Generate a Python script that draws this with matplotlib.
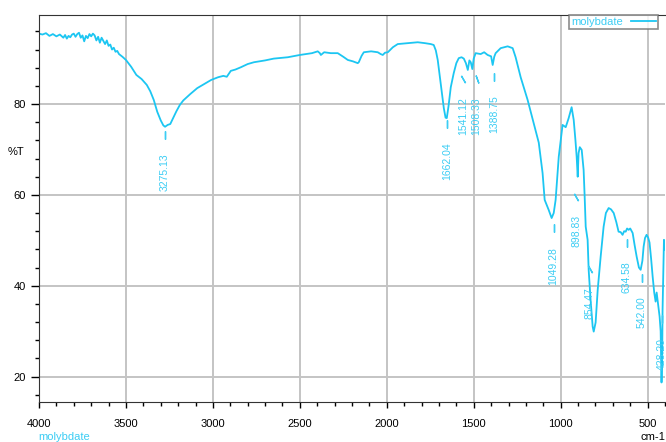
import numpy as np
import matplotlib.pyplot as plt
from matplotlib.ticker import MultipleLocator

plt.rcParams['font.family'] = ['Liberation Sans', 'DejaVu Sans']

# spectrum (wavenumber cm-1, %T)
wn = [4000, 3980, 3960, 3940, 3920, 3900, 3880, 3860, 3850, 3840, 3830, 3820,
      3810, 3800, 3790, 3780, 3770, 3760, 3750, 3740, 3730, 3720, 3710, 3700,
      3690, 3680, 3670, 3660, 3650, 3640, 3630, 3620, 3610, 3600, 3590, 3580,
      3570, 3560, 3550, 3540, 3520, 3500, 3470, 3440, 3410, 3380, 3360, 3340,
      3320, 3300, 3285, 3275, 3260, 3245, 3230, 3210, 3190, 3170, 3130, 3090,
      3050, 3010, 2970, 2940, 2920, 2897, 2870, 2839, 2800, 2764, 2700, 2650,
      2569, 2500, 2430, 2397, 2385, 2379, 2360, 2322, 2282, 2250, 2224, 2195,
      2167, 2161, 2145, 2132, 2090, 2052, 2035, 2023, 2010, 1994, 1965, 1937,
      1880, 1822, 1780, 1747, 1730, 1718, 1707, 1690, 1672, 1662, 1655, 1645,
      1632, 1615, 1600, 1586, 1570, 1557, 1545, 1534, 1525, 1517, 1508, 1500,
      1489, 1460, 1440, 1420, 1400, 1391, 1382, 1374, 1345, 1305, 1276, 1259,
      1230, 1190, 1155, 1126, 1104, 1092, 1069, 1052, 1040, 1029, 1011, 989,
      971, 954, 937, 925, 915, 908, 902, 897, 890, 879, 868, 862,
      856, 845, 839, 828, 816, 810, 799, 787, 770, 753, 740, 724,
      710, 695, 680, 667, 655, 644, 635, 626, 618, 609, 600, 586,
      575, 563, 550, 540, 530, 523, 515, 506, 497, 489, 480, 471,
      462, 454, 448, 443, 437, 431, 425, 420, 416, 414, 410, 406, 402]
trans = [95.5, 95.3, 95.6, 95.0, 95.4, 94.9, 95.3, 94.6, 95.2, 94.4, 95.0, 94.7,
         95.3, 95.5, 94.8, 95.4, 95.7, 94.6, 95.1, 93.8, 95.0, 94.5, 95.4, 94.9,
         95.5, 95.1, 94.0, 94.8, 93.5, 94.6, 93.9, 93.2, 94.0, 92.8, 93.1, 92.0,
         92.4, 91.5, 91.7, 91.0, 90.4, 89.7, 88.2, 86.4, 85.5, 84.2, 82.8, 80.9,
         78.3, 76.4, 75.3, 75.0, 75.4, 75.6, 76.8, 78.4, 79.8, 80.8, 82.2, 83.5,
         84.4, 85.3, 85.9, 86.2, 86.0, 87.3, 87.6, 88.1, 88.8, 89.2, 89.6, 90.0,
         90.3, 90.8, 91.2, 91.6, 91.2, 90.8, 91.4, 91.2, 91.2, 90.4, 89.7, 89.4,
         89.0, 89.2, 90.6, 91.4, 91.6, 91.4, 91.0, 90.8, 91.3, 91.4, 92.5, 93.2,
         93.4, 93.6, 93.4, 93.2, 93.0, 91.8, 89.7, 84.6, 79.1, 77.0, 76.9, 79.5,
         83.7, 86.8, 89.0, 90.1, 90.3, 90.0, 89.0, 87.5, 89.6, 89.2, 87.7, 90.0,
         91.2, 91.0, 91.4, 90.8, 90.5, 88.6, 90.4, 91.2, 92.3, 92.7, 92.3, 90.3,
         85.9, 80.9, 75.8, 71.5, 64.8, 58.9, 56.7, 54.9, 56.0, 58.9, 68.4, 75.4,
         74.9, 76.9, 79.3, 76.5, 72.0, 68.4, 64.0, 69.2, 70.5, 69.9, 65.5, 59.6,
         53.0, 50.1, 43.5, 36.9, 31.0, 29.9, 31.9, 39.1, 46.4, 53.0, 56.0, 57.1,
         56.8, 56.0, 54.0, 51.9, 51.8, 51.2, 52.0, 51.9, 52.6, 52.3, 52.6, 51.6,
         49.0, 46.4, 44.0, 43.5, 45.5, 48.6, 50.5, 51.2, 50.6, 49.5, 46.0, 42.0,
         38.5, 36.5, 38.5, 36.9, 35.0, 33.2, 30.0, 18.7, 25.0, 34.7, 42.0, 50.1, 48.0]

peak_text = ['3275.13', '1662.04', '1541.12', '1508.33', '1388.75', '1049.28',
             '898.83', '854.47', '634.58', '542.00', '428.20']

# label placement (x in cm-1, top of text in %T), and marker angle
label_x = [3275, 1651, 1559, 1484, 1381, 1041, 911, 834, 621, 534, 419]
label_top = [69.2, 71.6, 81.5, 81.5, 82.0, 48.6, 55.6, 39.6, 45.3, 37.6, 28.6]
mark_angle = [0, 0, 30, 20, 0, 0, 30, 30, 0, 0, 0]

line_c = '#1cc6f2'
text_c = '#3ccdf4'

fig = plt.figure(figsize=(6.66, 4.42), dpi=100)
ax = fig.add_axes([39 / 666, 1 - 402 / 442, 626 / 666, 387 / 442])

ax.plot(wn, trans, color=line_c, lw=1.3, label='molybdate')

for t, x, top, ang in zip(peak_text, label_x, label_top, mark_angle):
    ax.text(x, top, t, rotation=90, ha='center', va='top', fontsize=7.5,
            color=text_c)
    ax.plot([x], [top + 4.0], marker=(2, 2, ang), ms=6, mew=1.0, color=text_c)

ax.set_xlim(4000, 400)
ax.set_ylim(14.4, 99.6)
ax.xaxis.set_major_locator(MultipleLocator(500))
ax.xaxis.set_minor_locator(MultipleLocator(100))
ax.yaxis.set_major_locator(MultipleLocator(20))
ax.yaxis.set_minor_locator(MultipleLocator(4))
ax.grid(True, which='major', color='#c4c4c4', lw=1.4)
ax.tick_params(which='major', labelsize=8, length=6, direction='out', width=1)
ax.tick_params(axis='x', which='major', length=4, pad=8)
ax.tick_params(which='minor', length=3, width=1)
ax.spines['right'].set_visible(False)
for s in ['left', 'bottom', 'top']:
    ax.spines[s].set_color('#333333')

fig.text(8 / 666, 1 - 152 / 442, '%T', fontsize=8, va='center', ha='left')
fig.text(665 / 666, 1 - 437 / 442, 'cm-1', fontsize=8, va='center', ha='right')
fig.text(38 / 666, 1 - 437 / 442, 'molybdate', fontsize=8, va='center',
         ha='left', color=text_c)

leg = ax.legend(loc='upper right', bbox_to_anchor=(0.989, 1.0), borderaxespad=0,
                markerfirst=False, fontsize=8, frameon=True, fancybox=False,
                borderpad=0.2, handlelength=2.2, handletextpad=0.8)
leg.get_frame().set_edgecolor('#707070')
leg.get_frame().set_linewidth(1.2)
for txt in leg.get_texts():
    txt.set_color(text_c)

fig.savefig('out.png', dpi=100)
